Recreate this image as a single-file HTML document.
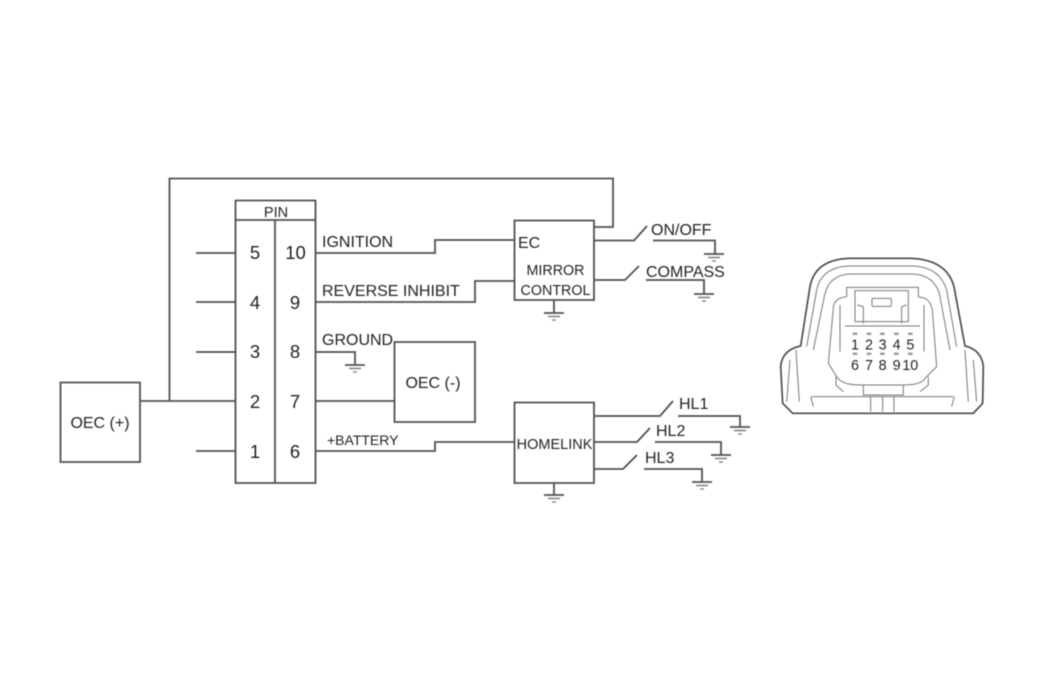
<!DOCTYPE html>
<html><head><meta charset="utf-8"><style>
html,body{margin:0;padding:0;background:#fff;width:1050px;height:679px;overflow:hidden}
svg{display:block;filter:blur(.45px)}
text{font-family:"Liberation Sans",sans-serif;fill:#222}
.l{fill:none;stroke:#505050;stroke-width:1.8}
.c{fill:none;stroke:#4a4a4a;stroke-width:5}
.d{fill:none;stroke:#777;stroke-width:3}
</style></head><body>
<svg width="1050" height="679" viewBox="0 0 1050 679" xmlns="http://www.w3.org/2000/svg">
<defs><g id="g"><path class="l" d="M-10 0H10"/><path d="M-6 3.500H6" stroke="#777" stroke-width="1.400"/><path d="M-2 7H2" stroke="#888" stroke-width="1.400"/></g></defs>
<g>
<path class="l" d="M60.500 382.500H140V462H60.500Z"/>
<path class="l" d="M140 401H235M169.500 401V178.500H613V227H594"/>
<path class="l" d="M235.500 200.500H315.500V483H235.500ZM235.500 220H315.500M275 220V483"/>
<path class="l" d="M196 253H235M196 302H235M196 352H235M196 451H235"/>
<path class="l" d="M316 253H435V240H514M316 302H475V281H514M316 352H355V365M316 401H394M316 451H435V442H514"/>
<path class="l" d="M394.500 342H475V422H394.500Z"/>
<path class="l" d="M514.500 220.500H594V300H514.500Z"/>
<path class="l" d="M514.500 402.500H594V483H514.500Z"/>
<path class="l" d="M594 240.500H634L647 226M653 240.500H715V254M594 280H625L639 266M646 280H704V294M554 300V313"/>
<path class="l" d="M594 416H660L673 401M678 416H740V427M594 442H637L650 428M655 442H721V455M594 469H623L637 455M644 469H702V482M554 483V495"/>
<use href="#g" x="714" y="254"/><use href="#g" x="704" y="294"/><use href="#g" x="554" y="313"/><use href="#g" x="355" y="365"/>
<use href="#g" x="740" y="427"/><use href="#g" x="721" y="455"/><use href="#g" x="702" y="482"/><use href="#g" x="554" y="495"/>
</g>
<g font-size="16">
<text x="100" y="428" text-anchor="middle">OEC (+)</text>
<text x="276" y="217" text-anchor="middle" font-size="14.500">PIN</text>
<text x="433" y="388" text-anchor="middle">OEC (-)</text>
<text x="322" y="247">IGNITION</text>
<text x="322" y="296">REVERSE INHIBIT</text>
<text x="322" y="345">GROUND</text>
<text x="518" y="248">EC</text>
<text x="555.500" y="275" text-anchor="middle" font-size="14.300">MIRROR</text>
<text x="555.500" y="295" text-anchor="middle" font-size="14.300">CONTROL</text>
<text x="554.500" y="449" text-anchor="middle" font-size="14.500">HOMELINK</text>
<text x="651" y="235">ON/OFF</text>
<text x="646" y="277">COMPASS</text>
<text x="679" y="409">HL1</text>
<text x="656" y="436">HL2</text>
<text x="645" y="463">HL3</text>
<text x="327" y="445" font-size="14">+BATTERY</text>
</g>
<g font-size="18.500" text-anchor="middle">
<text x="255" y="259">5</text><text x="295.500" y="259">10</text>
<text x="255" y="309">4</text><text x="295" y="309">9</text>
<text x="255" y="358">3</text><text x="295" y="358">8</text>
<text x="255" y="408">2</text><text x="295" y="408">7</text>
<text x="255" y="458">1</text><text x="295" y="458">6</text>
</g>
<g transform="translate(770 250) scale(.3333)">
<path class="c" d="M68 490L38 460L32 350Q36 300 92 288L120 110Q135 28 240 25H420Q530 28 552 110L585 288Q635 300 640 350L638 460L610 490Z"/>
<path class="d" d="M110 290L140 120Q155 50 240 48H430Q510 52 530 120L560 290"/>
<path class="d" d="M130 300L165 130Q180 75 240 72H430Q490 75 508 130L540 300"/>
<path class="d" d="M50 455L60 330M88 455L78 300M585 300L595 455M620 455L610 330M125 440H550M130 470L122 440M545 470L553 440"/>
<path class="d" d="M230 112H445V140L465 145Q485 155 488 190L500 350L465 385Q455 405 400 405H270Q215 405 200 380L175 340L190 175Q190 145 230 140Z"/>
<path class="d" d="M255 122H415V215H255ZM262 165L280 170V220M410 165L395 170V220M225 228H450"/>
<rect x="306" y="145" width="58" height="24" rx="3" class="d"/>
<path class="d" d="M210 165V305M462 165V305M198 380V405L220 425M475 380V405L450 425M280 405V435H400V405"/>
<path class="d" d="M302 440V485M338 440V485M372 440V485"/>
<path d="M248 248h14v7h-14zM290 248h14v7h-14zM330 248h14v7h-14zM372 248h14v7h-14zM414 248h14v7h-14zM248 308h14v7h-14zM290 308h14v7h-14zM330 308h14v7h-14zM372 308h14v7h-14zM414 308h14v7h-14z" fill="#999"/>
<g font-size="43" text-anchor="middle">
<text x="255" y="298">1</text><text x="297" y="298">2</text><text x="338" y="298">3</text><text x="380" y="298">4</text><text x="421" y="298">5</text>
<text x="255" y="360">6</text><text x="297" y="360">7</text><text x="338" y="360">8</text><text x="380" y="360">9</text><text x="421" y="360">10</text>
</g>
</g>
</svg>
</body></html>
